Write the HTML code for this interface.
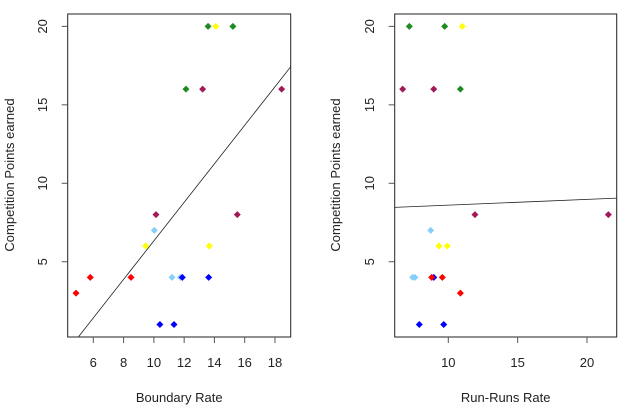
<!DOCTYPE html>
<html><head><meta charset="utf-8"><style>
html,body{margin:0;padding:0;background:#fff;overflow:hidden;width:640px;height:420px;font-family:"Liberation Sans",Arial,sans-serif;}
svg{display:block;}
svg text{font-family:"Liberation Sans",Arial,sans-serif;fill:#222;font-size:13px;}
</style></head><body>
<svg id="c" width="640" height="420"></svg>
<script>
const yTicks=[5,10,15,20];
const leftX=[4.86,5.8,8.49,9.46,10.03,10.14,11.2,11.75,11.88,10.4,11.33,13.62,13.66,15.51,12.12,13.22,18.44,13.58,14.09,15.22];
const leftY=[3,4,4,6,7,8,4,4,4,1,1,4,6,8,16,16,16,20,20,20];
const leftC=["red","red","red","yellow","lightskyblue","#a2195b","lightskyblue","lightskyblue","blue","blue","blue","blue","yellow","#a2195b","#1e8b1e","#a2195b","#a2195b","#1e8b1e","yellow","#1e8b1e"];
const leftTicks=[6,8,10,12,14,16,18];
const leftFit=[-5.95,1.228];
const rightX=[7.19,9.74,11.01,6.71,8.95,10.87,11.92,21.54,8.73,9.33,9.93,7.43,7.6,8.95,8.8,9.57,10.87,7.91,9.67];
const rightY=[20,20,20,16,16,16,8,8,7,6,6,4,4,4,4,4,3,1,1];
const rightC=["#1e8b1e","#1e8b1e","yellow","#a2195b","#a2195b","#1e8b1e","#a2195b","#a2195b","lightskyblue","yellow","yellow","lightskyblue","lightskyblue","blue","red","red","red","blue","blue"];
const rightTicks=[10,15,20];
const rightFit=[8.24,0.0367];
const NS="http://www.w3.org/2000/svg";
const svg=document.getElementById('c');
function el(t,a,p){const e=document.createElementNS(NS,t);for(const k in a)e.setAttribute(k,a[k]);(p||svg).appendChild(e);return e;}
const yS=v=>324.5-(v-1)*15.69;
function panel(name,x0,x1,xS,xs,ys,cs,ticks,fit,title,lblX,titX){
  const g=el('g',{});
  
  
  const cid='clip-'+name;
  const cp=el('clipPath',{id:cid},g);el('rect',{x:x0,y:14,width:x1-x0,height:323},cp);
  const box=el('rect',{x:x0,y:14,width:x1-x0,height:323,fill:'none',stroke:'#222','stroke-width':1},g);
  
  
  yTicks.forEach(v=>{
    el('line',{x1:x0,x2:x0-6,y1:yS(v),y2:yS(v),stroke:'#555'},g);
    const t=el('text',{x:lblX,y:yS(v),'text-anchor':'middle',transform:`rotate(-90 ${lblX} ${yS(v)})`},g);
    t.textContent=v;
    
    
  });
  ticks.forEach(v=>{
    el('line',{x1:xS(v),x2:xS(v),y1:337,y2:343,stroke:'#555'},g);
    const t=el('text',{x:xS(v),y:367,'text-anchor':'middle'},g);
    t.textContent=v;
    
    
  });
  const xa=el('text',{x:(x0+x1)/2,y:402,'text-anchor':'middle'},g);xa.textContent=title;
  
  
  const ya=el('text',{x:titX,y:175,'text-anchor':'middle',transform:`rotate(-90 ${titX} 175)`},g);ya.textContent='Competition Points earned';
  
  
  const xa0=-20,xa1=40;
  const ln=el('line',{x1:xS(xa0),y1:yS(fit[0]+fit[1]*xa0),x2:xS(xa1),y2:yS(fit[0]+fit[1]*xa1),stroke:'#222','stroke-width':0.8,'clip-path':`url(#${cid})`},g);
  
  
  xs.forEach((x,i)=>{
    const cx=xS(x),cy=yS(ys[i]);
    const p=el('polygon',{points:`${cx},${cy-3.5} ${cx+3.5},${cy} ${cx},${cy+3.5} ${cx-3.5},${cy}`,fill:cs[i]},g);
    
    
  });
}
panel('boundary',67.7,290.7,v=>93.3+(v-6)*15.14,leftX,leftY,leftC,leftTicks,leftFit,'Boundary Rate',47,14);
panel('runruns',394.7,616.7,v=>448.3+(v-10)*13.87,rightX,rightY,rightC,rightTicks,rightFit,'Run-Runs Rate',374,340);
</script>
</body></html>
